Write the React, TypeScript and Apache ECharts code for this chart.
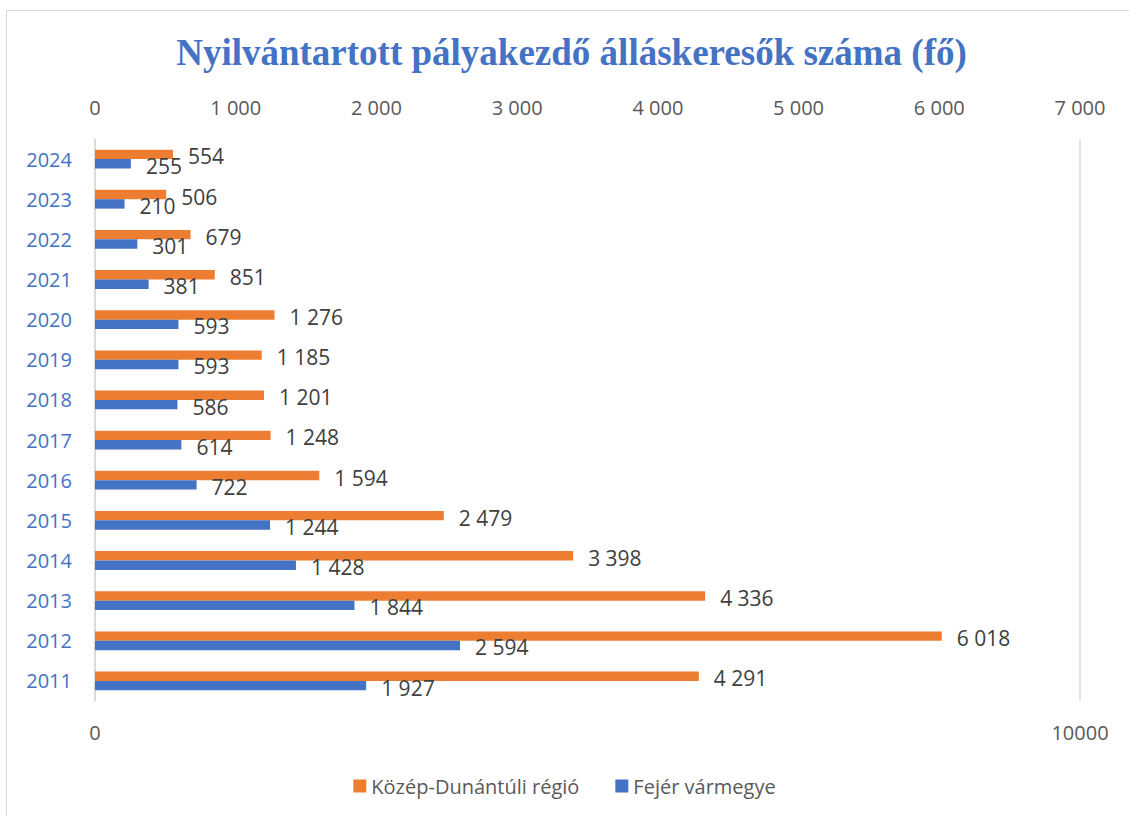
import React, { useEffect, useRef } from "react";
import * as echarts from "echarts";

const years = ["2024", "2023", "2022", "2021", "2020", "2019", "2018", "2017", "2016", "2015", "2014", "2013", "2012", "2011"];
const regioValues = [554, 506, 679, 851, 1276, 1185, 1201, 1248, 1594, 2479, 3398, 4336, 6018, 4291];
const fejerValues = [255, 210, 301, 381, 593, 593, 586, 614, 722, 1244, 1428, 1844, 2594, 1927];
const seriesNames = ["Közép-Dunántúli régió", "Fejér vármegye"];
const titleText = "Nyilvántartott pályakezdő álláskeresők száma (fő)";
const topAxisMax = 7000;
const topAxisStep = 1000;
const bottomAxisMax = 10000;

const ORANGE = "#ED7D31";
const BLUE = "#4472C4";
const FONT = "'Open Sans', sans-serif";

const fmt = (v: number) => String(v).replace(/\B(?=(\d{3})+(?!\d))/g, " ");

export default function App() {
  const ref = useRef<HTMLDivElement>(null);
  useEffect(() => {
    if (!ref.current) return;
    const chart = echarts.init(ref.current, null, { renderer: "svg" });
    const labelCommon = {
      show: true,
      position: "right" as const,
      distance: 15,
      offset: [0, 2],
      color: "#404040",
      fontSize: 21,
      fontFamily: FONT,
      formatter: (p: any) => fmt(p.value),
    };
    chart.setOption({
      animation: false,
      backgroundColor: "#ffffff",
      textStyle: { fontFamily: FONT },
      graphic: [
        {
          type: "line",
          shape: { x1: 6.5, y1: 10, x2: 6.5, y2: 816 },
          style: { stroke: "#D9D9D9", lineWidth: 1 },
        },
        {
          type: "line",
          shape: { x1: 6.5, y1: 10.5, x2: 1129, y2: 10.5 },
          style: { stroke: "#D9D9D9", lineWidth: 1 },
        },
        {
          type: "text",
          x: 571.5,
          y: 52,
          style: {
            text: titleText,
            fill: BLUE,
            font: "bold 37px 'Liberation Serif', 'Times New Roman', serif",
            textAlign: "center",
            textVerticalAlign: "middle",
          },
        },
      ],
      legend: {
        data: seriesNames,
        left: "center",
        top: 771,
        icon: "rect",
        itemWidth: 13,
        itemHeight: 13,
        itemGap: 36,
        textStyle: { color: "#595959", fontSize: 20, fontFamily: FONT },
      },
      grid: { left: 95, right: 49, top: 139, bottom: 115, containLabel: false },
      xAxis: [
        {
          type: "value",
          position: "top",
          min: 0,
          max: topAxisMax,
          interval: topAxisStep,
          axisLine: { show: false },
          axisTick: { show: false },
          splitLine: { show: false },
          axisLabel: {
            color: "#595959",
            fontSize: 20,
            fontFamily: FONT,
            margin: 22,
            formatter: (v: number) => fmt(v),
          },
        },
        {
          type: "value",
          position: "bottom",
          min: 0,
          max: bottomAxisMax,
          interval: bottomAxisMax,
          axisLine: { show: false },
          axisTick: { show: false },
          splitLine: { show: true, lineStyle: { color: "#D9D9D9", width: 1.5 } },
          axisLabel: {
            color: "#595959",
            fontSize: 20,
            fontFamily: FONT,
            margin: 21,
            formatter: (v: number) => String(v),
          },
        },
      ],
      yAxis: {
        type: "category",
        data: years,
        inverse: true,
        axisLine: { show: true, onZero: false, lineStyle: { color: "#D9D9D9", width: 1.5 } },
        axisTick: { show: false },
        axisLabel: { color: BLUE, fontSize: 20, fontFamily: FONT, margin: 23 },
      },
      series: [
        {
          name: seriesNames[0],
          type: "bar",
          xAxisIndex: 0,
          data: regioValues,
          barWidth: 9.4,
          barGap: "0%",
          itemStyle: { color: ORANGE },
          label: labelCommon,
        },
        {
          name: seriesNames[1],
          type: "bar",
          xAxisIndex: 0,
          data: fejerValues,
          barWidth: 9.4,
          barGap: "0%",
          itemStyle: { color: BLUE },
          label: labelCommon,
        },
      ],
    });
    return () => chart.dispose();
  }, []);
  return (
    <div
      ref={ref}
      style={{ position: "absolute", left: 0, top: 0, width: 1129, height: 816, background: "#fff" }}
    />
  );
}
